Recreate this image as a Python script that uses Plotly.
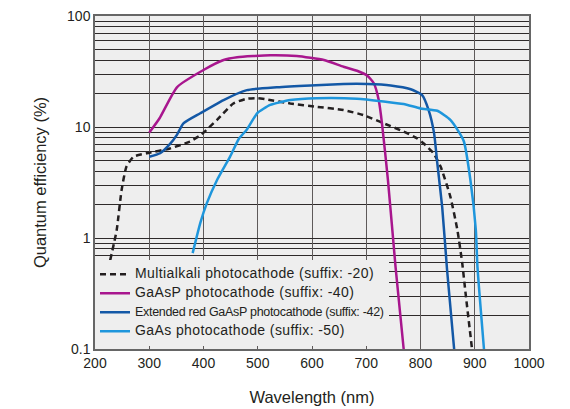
import plotly.graph_objects as go

# ---- data ----
multialkali_wl = [228, 240, 249, 258, 271, 295, 338, 375, 394, 400, 425, 455, 480, 500, 517, 560, 609, 658, 695, 732, 769, 794, 806, 824, 837, 855, 868, 877, 883, 895]
multialkali_qe = [0.63, 1.18, 2.7, 4.4, 5.4, 5.8, 6.4, 7.4, 8.4, 8.9, 11.6, 16.3, 18.0, 18.2, 17.7, 16.3, 15.2, 14.2, 12.8, 10.8, 9.1, 7.9, 7.1, 5.8, 4.4, 2.36, 1.18, 0.59, 0.32, 0.1]

gaasp_wl = [300, 319, 351, 400, 437, 462, 523, 572, 622, 658, 683, 702, 714, 723, 729, 740, 754, 769]
gaasp_qe = [8.9, 12.0, 22.8, 32.6, 40.1, 42.5, 44.3, 43.6, 40.1, 34.9, 32.1, 29.0, 24.8, 17.5, 10.8, 3.33, 0.55, 0.1]

extred_wl = [300, 320, 338, 351, 363, 394, 437, 480, 535, 597, 658, 702, 745, 782, 803, 815, 825, 831, 840, 849, 862]
extred_qe = [5.4, 5.8, 7.0, 8.5, 10.8, 13.3, 17.5, 21.5, 22.8, 23.7, 24.4, 24.4, 23.7, 21.9, 19.4, 14.2, 8.8, 4.7, 1.9, 0.515, 0.1]

gaas_wl = [380, 394, 406, 425, 449, 465, 480, 499, 523, 560, 609, 683, 732, 769, 800, 831, 855, 872, 880, 892, 902, 905, 917]
gaas_qe = [0.73, 1.36, 2.05, 3.33, 5.4, 7.8, 9.5, 13.3, 15.8, 17.5, 18.2, 18.0, 17.0, 16.1, 14.7, 14.0, 11.6, 8.8, 7.4, 3.33, 1.18, 0.55, 0.1]

series_names = [
    "<span style=\"font-size:14px;letter-spacing:0.4px;\">Multialkali photocathode (suffix: -20)</span>",
    "<span style=\"font-size:14px;letter-spacing:0.4px;\">GaAsP photocathode (suffix: -40)</span>",
    "<span style=\"font-size:12.5px;letter-spacing:-0.3px;\">Extended red GaAsP photocathode (suffix: -42)</span>",
    "<span style=\"font-size:14px;letter-spacing:0.4px;\">GaAs photocathode (suffix: -50)</span>",
]

x_ticks = [200, 300, 400, 500, 600, 700, 800, 900, 1000]
y_ticks = [0.1, 1, 10, 100]
y_ticktext = ["0.1", "1", "10", "100"]
y_minor = [m * d for d in (0.1, 1, 10) for m in range(2, 10)]

XGRID = "#5e5a5a"
YGRID = "#2e2a2a"
TXT = "#231F20"
BG = "#EEEEEE"

fig = go.Figure()
fig.add_trace(go.Scatter(x=multialkali_wl, y=multialkali_qe, mode="lines", name=series_names[0],
                         line=dict(color="#231F20", width=2.5, dash="6px,4px", shape="spline", smoothing=0.5)))
fig.add_trace(go.Scatter(x=gaasp_wl, y=gaasp_qe, mode="lines", name=series_names[1],
                         line=dict(color="#A8168E", width=2.5, shape="spline", smoothing=0.5)))
fig.add_trace(go.Scatter(x=extred_wl, y=extred_qe, mode="lines", name=series_names[2],
                         line=dict(color="#1358A6", width=2.5, shape="spline", smoothing=0.5)))
fig.add_trace(go.Scatter(x=gaas_wl, y=gaas_qe, mode="lines", name=series_names[3],
                         line=dict(color="#1E96DC", width=2.5, shape="spline", smoothing=0.5)))

# the page body has an 8px default margin, so the figure is sized/margined to compensate
fig.update_layout(
    width=562, height=401,
    margin=dict(l=87, r=41, t=8, b=60),
    plot_bgcolor=BG, paper_bgcolor="white",
    font=dict(family="Liberation Sans, Arial, sans-serif", color=TXT, size=14),
    showlegend=True,
    legend=dict(x=0.0, y=0.01, xanchor="left", yanchor="bottom", bgcolor=BG,
                borderwidth=0, font=dict(size=11, color=TXT), tracegroupgap=0,
                itemwidth=30),
)
fig.update_xaxes(
    range=[200, 1000], tickvals=x_ticks, showgrid=True, gridcolor=XGRID, gridwidth=1,
    ticks="inside", ticklen=5, tickcolor=XGRID, showline=True, linecolor="#666666",
    linewidth=1.5, mirror=True, zeroline=False, tickfont=dict(size=14, color=TXT),
    automargin=False, ticklabeloverflow="allow",
    title=dict(text="Wavelength (nm)", font=dict(size=16.5, color=TXT), standoff=22),
)
fig.update_yaxes(
    type="log", range=[-1, 2], tickvals=y_ticks, ticktext=y_ticktext,
    showgrid=True, gridcolor=YGRID, gridwidth=1,
    ticks="inside", ticklen=5, tickcolor=YGRID, showline=True, linecolor="#666666",
    linewidth=1.5, mirror=True, zeroline=False, tickfont=dict(size=14, color=TXT),
    automargin=False, ticklabeloverflow="allow",
    minor=dict(tickvals=y_minor, showgrid=True, gridcolor=YGRID, gridwidth=1,
               ticks="inside", ticklen=5, tickcolor=YGRID),
    title=dict(text="Quantum efficiency (%)", font=dict(size=16.5, color=TXT), standoff=16),
)

fig.write_html("out.html")
